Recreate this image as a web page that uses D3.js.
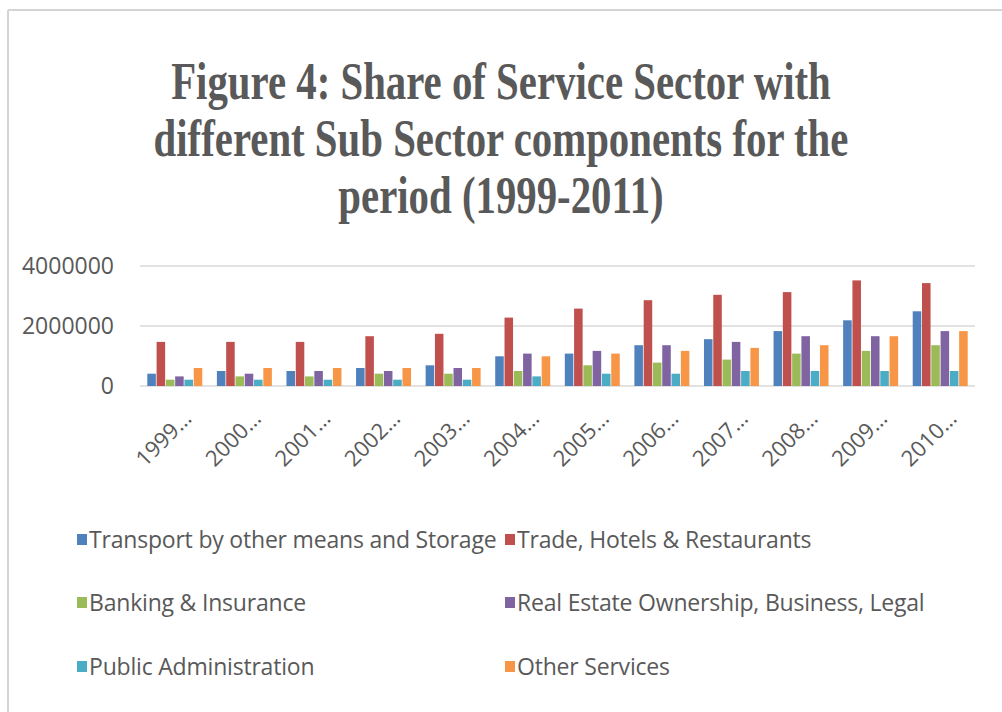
<!DOCTYPE html>
<html>
<head>
<meta charset="utf-8">
<script src="https://cdn.jsdelivr.net/npm/d3@7"></script>
<style>
  body { margin: 0; background: #fff; }
  svg { display: block; }
</style>
</head>
<body>
<svg id="chart" width="1002" height="712"></svg>
<script>
// data
const years = ["1999…", "2000…", "2001…", "2002…", "2003…", "2004…", "2005…", "2006…", "2007…", "2008…", "2009…", "2010…"];
const seriesNames = ["Transport by other means and Storage", "Trade, Hotels & Restaurants", "Banking & Insurance",
  "Real Estate Ownership, Business, Legal", "Public Administration", "Other Services"];
const transport = [410000, 500000, 500000, 600000, 690000, 990000, 1080000, 1360000, 1560000, 1830000, 2190000, 2490000];
const trade = [1470000, 1470000, 1470000, 1660000, 1740000, 2280000, 2580000, 2860000, 3040000, 3130000, 3520000, 3430000];
const banking = [210000, 320000, 320000, 410000, 410000, 500000, 690000, 780000, 880000, 1080000, 1170000, 1360000];
const realEstate = [320000, 410000, 500000, 500000, 600000, 1080000, 1170000, 1360000, 1470000, 1660000, 1660000, 1830000];
const publicAdmin = [210000, 210000, 210000, 210000, 210000, 320000, 410000, 410000, 500000, 500000, 500000, 500000];
const otherServices = [600000, 600000, 600000, 600000, 600000, 990000, 1080000, 1170000, 1270000, 1360000, 1660000, 1830000];
const yTicks = [0, 2000000, 4000000];
const titleLines = ["Figure 4: Share of Service Sector with", "different Sub Sector components for the", "period (1999-2011)"];

const allSeries = [transport, trade, banking, realEstate, publicAdmin, otherServices];
const colors = ["#4F81BD", "#C0504D", "#9BBB59", "#8064A2", "#4BACC6", "#F79646"];

const svg = d3.select("#chart");

// frame (top and left edges show in the picture)
svg.append("line").attr("x1", 8).attr("x2", 1002).attr("y1", 10).attr("y2", 10)
  .attr("stroke", "#d4d4d4").attr("stroke-width", 2);
svg.append("line").attr("x1", 8).attr("x2", 8).attr("y1", 10).attr("y2", 712)
  .attr("stroke", "#d4d4d4").attr("stroke-width", 2);

// title, condensed serif
const title = svg.append("g").attr("transform", "translate(501,0) scale(0.785,1)");
title.selectAll("text")
  .data(titleLines)
  .enter()
  .append("text")
  .attr("x", 0)
  .attr("y", (d, i) => 99 + i * 57)
  .attr("text-anchor", "middle")
  .attr("font-family", "Liberation Serif, serif")
  .attr("font-weight", "bold")
  .attr("font-size", 52)
  .attr("fill", "#595959")
  .text(d => d);

const plotLeft = 140, plotRight = 975, plotTop = 266, plotBottom = 386;

const x = d3.scaleBand().domain(years).range([plotLeft, plotRight]).paddingInner(0.21).paddingOuter(0.105);
const xs = d3.scaleBand().domain(d3.range(allSeries.length)).range([0, x.bandwidth()]).paddingInner(0.08);
const y = d3.scaleLinear().domain([0, 4000000]).range([plotBottom, plotTop]);

// gridlines
svg.append("g")
  .selectAll("line")
  .data(yTicks)
  .enter()
  .append("line")
  .attr("x1", plotLeft).attr("x2", plotRight)
  .attr("y1", d => y(d)).attr("y2", d => y(d))
  .attr("stroke", "#d9d9d9").attr("stroke-width", 1.5);

// y axis labels
const yAxis = svg.append("g")
  .attr("transform", `translate(${plotLeft - 26},0)`)
  .call(d3.axisLeft(y).tickValues(yTicks).tickSize(0).tickPadding(0).tickFormat(d3.format("d")));
yAxis.select(".domain").remove();
yAxis.selectAll("text")
  .attr("font-family", "Open Sans, sans-serif")
  .attr("font-size", 23)
  .attr("fill", "#595959");

// bars
svg.append("g")
  .selectAll("g")
  .data(years)
  .enter()
  .append("g")
  .attr("transform", d => `translate(${x(d)},0)`)
  .selectAll("rect")
  .data((d, i) => allSeries.map((s, k) => ({ k: k, v: s[i] })))
  .enter()
  .append("rect")
  .attr("x", d => xs(d.k))
  .attr("y", d => y(d.v))
  .attr("width", xs.bandwidth())
  .attr("height", d => plotBottom - y(d.v))
  .attr("fill", d => colors[d.k]);

// x axis labels
const xAxis = svg.append("g")
  .attr("transform", `translate(0,${plotBottom})`)
  .call(d3.axisBottom(x).tickSize(0).tickPadding(0));
xAxis.select(".domain").remove();
xAxis.selectAll("text")
  .attr("font-family", "Open Sans, sans-serif")
  .attr("font-size", 22)
  .attr("fill", "#595959")
  .attr("text-anchor", "end")
  .attr("dy", 0)
  .attr("transform", "translate(18,34) rotate(-45)");

// legend
const legendPos = [[77, 540], [505, 540], [77, 603], [505, 603], [77, 667], [505, 667]];
const legend = svg.append("g")
  .selectAll("g")
  .data(seriesNames)
  .enter()
  .append("g")
  .attr("transform", (d, i) => `translate(${legendPos[i][0]},${legendPos[i][1]})`);
legend.append("rect")
  .attr("x", 0).attr("y", -6)
  .attr("width", 10).attr("height", 11)
  .attr("fill", (d, i) => colors[i]);
legend.append("text")
  .attr("x", 12)
  .attr("y", 0)
  .attr("dy", "0.35em")
  .attr("font-family", "Open Sans, sans-serif")
  .attr("font-size", 23)
  .attr("letter-spacing", -0.2)
  .attr("fill", "#595959")
  .text(d => d);
</script>
</body>
</html>
